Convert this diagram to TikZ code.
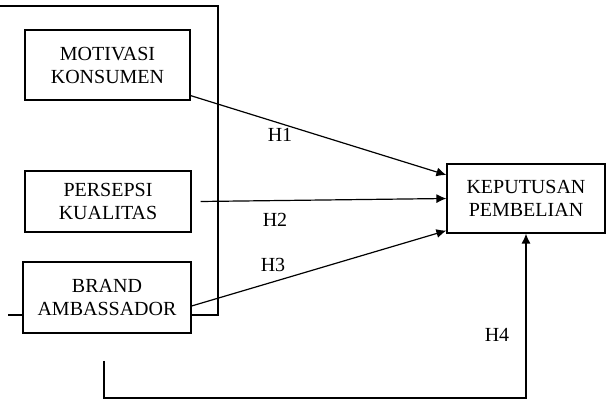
\documentclass[tikz,border=0pt]{standalone}
\usepackage{fontspec}
\setmainfont{Liberation Serif}
\usetikzlibrary{arrows.meta}

\tikzset{
    varbox/.style={draw, line width=0.6pt, align=center, font=\fontsize{10}{11.5}\selectfont, inner sep=0pt},
    link/.style={line width=0.6pt, -{Latex[length=5pt,width=4.5pt]}},
    hlabel/.style={font=\fontsize{10}{12}\selectfont}
}

\begin{document}
\begin{tikzpicture}[x=0.5pt, y=-0.5pt]
    \useasboundingbox (0,0) rectangle (606,400);

    % === Independent variables ===
    \node[varbox, minimum width=82.5pt, minimum height=35pt] (mot) at (107.5,65) {MOTIVASI\\KONSUMEN};
    \node[varbox, minimum width=83pt, minimum height=30.5pt] (per) at (108,201.5) {PERSEPSI\\KUALITAS};
    \node[varbox, minimum width=84pt, minimum height=35.5pt] (bra) at (107,297.5) {BRAND\\AMBASSADOR};

    % === Dependent variable ===
    \node[varbox, minimum width=79pt, minimum height=34.5pt] (kep) at (526,198.5) {KEPUTUSAN\\PEMBELIAN};

    % Bracket round the three variables
    \coordinate (brtop) at (0,6);
    \coordinate (brcorner) at (218,6);
    \coordinate (brlow) at (218,315);
    \coordinate (brstub) at (8,315);
    \draw[line width=0.6pt] (brtop) -- (brcorner) -- (brlow) -- (bra.east |- brlow);
    \draw[line width=0.6pt] (brstub) -- (bra.west |- brstub);

    % === Hypotheses ===
    \draw[link] ([yshift=2.5pt]mot.south east) -- ([yshift=11.75pt]kep.west);
    \draw[link] ([xshift=4.5pt]per.east) -- (kep.west);
    \draw[link] ([yshift=-4.25pt]bra.east) -- ([yshift=1.5pt]kep.south west);

    % Simultaneous path
    \coordinate (simstart) at (104,361);
    \draw[link] (simstart) -- (104,398) -| (kep.south);

    \node[hlabel] (h1) at (280,135) {H1};
    \node[hlabel] (h2) at (275,220) {H2};
    \node[hlabel] (h3) at (273,265) {H3};
    \node[hlabel] (h4) at (497,335) {H4};
\end{tikzpicture}
\end{document}
